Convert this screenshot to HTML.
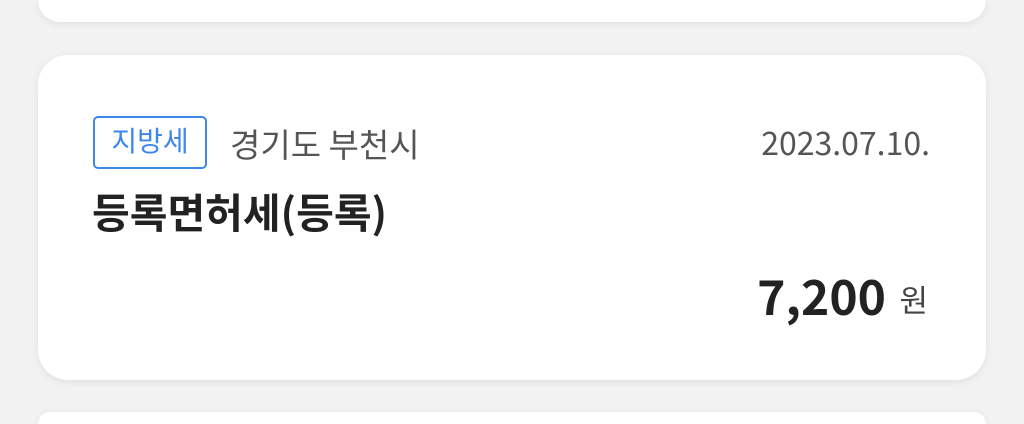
<!DOCTYPE html>
<html><head><meta charset="utf-8"><style>
html,body{margin:0;width:1024px;height:424px;background:#f2f2f2;position:relative;overflow:hidden;font-family:"Liberation Sans","Noto Sans CJK KR",sans-serif;}
.card{position:absolute;left:38px;width:948px;background:#fff;border-radius:30px;box-shadow:0 2px 8px rgba(0,0,0,0.08);}
.t{position:absolute;white-space:nowrap;line-height:1;font-family:'Noto Sans CJK KR',sans-serif;}
</style></head><body>
<div class="card" style="top:0;height:22px;border-radius:0 0 30px 30px"></div>
<div class="card" style="top:55px;height:325px"></div>
<div class="card" style="top:412px;height:12px;border-radius:30px 30px 0 0"></div>
<div style="position:absolute;left:93px;top:116px;width:110px;height:49px;border:2px solid #3d87ea;border-radius:5px;"></div>
<div class="t" style="left:93px;width:114px;text-align:center;top:126px;font-size:28px;color:#3d87ea;">지방세</div>
<div class="t" style="left:230px;top:127px;font-size:33px;color:#555;">경기도 부천시</div>
<div class="t" style="right:94px;top:126px;font-size:32px;color:#555;">2023.07.10.</div>
<div class="t" style="left:92px;top:190px;font-size:41px;font-weight:bold;color:#222;">등록면허세(등록)</div>
<div class="t" style="right:138px;top:270px;font-size:48px;font-weight:bold;color:#222;">7,200</div>
<div class="t" style="right:96px;top:283px;font-size:31px;color:#444;">원</div>
</body></html>
